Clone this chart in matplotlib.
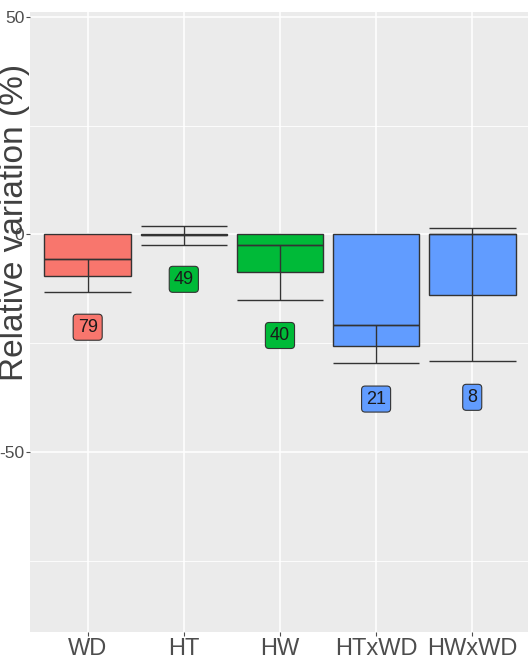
import numpy as np
import matplotlib
matplotlib.use("Agg")
from matplotlib import pyplot as plt

plt.rcParams["font.family"] = ["Liberation Sans", "DejaVu Sans"]

# ── data ──────────────────────────────────────────────────────────
CATEGORIES = ["WD", "HT", "HW", "HTxWD", "HWxWD"]
BAR_VALUE  = [-9.6, -0.2, -8.7, -25.5, -14.0]   # box from 0 down to this
MID_VALUE  = [-5.7, -0.2, -2.3, -20.9, 0.0]     # inner horizontal line
ERR_HIGH   = [-5.7, 1.9, -2.3, -20.9, 1.4]
ERR_LOW    = [-13.3, -2.3, -15.1, -29.6, -29.1]
N_LABELS   = ["79", "49", "40", "21", "8"]
LABEL_Y    = [-21.3, -10.3, -23.2, -37.8, -37.4]
Y_TICKS    = [50, 0, -50]
Y_MINOR    = [25, -25, -75]

COLORS = ["#F8766D", "#00BA38", "#00BA38", "#619CFF", "#619CFF"]
BG     = "#EBEBEB"
WIDTH  = 0.9

# ── figure ────────────────────────────────────────────────────────
fig = plt.figure(figsize=(5.28, 6.58), dpi=100)
ax = fig.add_axes([30 / 528, 26 / 658, 1 - 30 / 528, (632 - 12) / 658])
ax.set_facecolor(BG)

x = np.arange(1, len(CATEGORIES) + 1)

for i, xi in enumerate(x):
    ax.bar(xi, BAR_VALUE[i], width=WIDTH, bottom=0, color=COLORS[i],
           edgecolor="#333333", linewidth=1.0, zorder=3)
    ax.hlines(MID_VALUE[i], xi - WIDTH / 2, xi + WIDTH / 2,
              color="#333333", linewidth=1.0, zorder=4)
    ax.vlines(xi, ERR_LOW[i], ERR_HIGH[i], color="#333333", linewidth=1.0, zorder=4)
    ax.hlines([ERR_LOW[i], ERR_HIGH[i]], xi - WIDTH / 2, xi + WIDTH / 2,
              color="#333333", linewidth=1.0, zorder=4)
    ax.text(xi, LABEL_Y[i], N_LABELS[i], ha="center", va="center",
            fontsize=13, color="#1a1a1a", zorder=5,
            bbox=dict(boxstyle="round,pad=0.25,rounding_size=0.2",
                      facecolor=COLORS[i], edgecolor="#333333", linewidth=0.8))

# axes / grid
ax.set_xlim(0.4, 5.58)
ax.set_ylim(-91.3, 51.1)
ax.set_xticks(x)
ax.set_xticklabels(CATEGORIES, fontsize=17, color="#4D4D4D")
ax.set_yticks(Y_TICKS)
ax.set_yticklabels([str(t) for t in Y_TICKS], fontsize=12.5, color="#4D4D4D")
ax.set_yticks(Y_MINOR, minor=True)
ax.tick_params(axis="both", which="major", length=3, width=0.8, color="#4D4D4D", pad=1)
ax.tick_params(axis="y", which="minor", length=0)
ax.grid(True, which="major", color="white", linewidth=1.1, zorder=0)
ax.grid(True, which="minor", axis="y", color="white", linewidth=0.6, zorder=0)
ax.set_axisbelow(True)
for s in ax.spines.values():
    s.set_visible(False)

fig.text(15 / 528, 1 - 222 / 658, "Relative variation (%)", rotation=90,
         ha="center", va="center", fontsize=24, color="#404040", zorder=10)

fig.savefig("out.png", dpi=100)
